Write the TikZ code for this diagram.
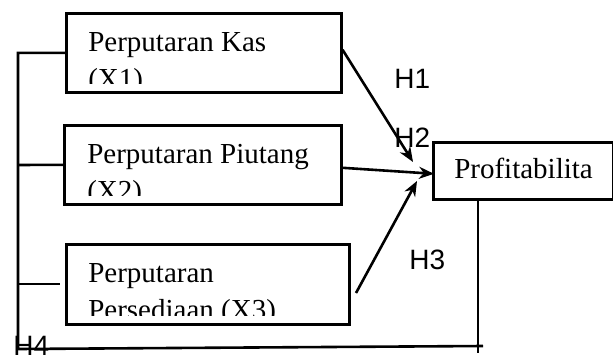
\documentclass[tikz,border=0pt]{standalone}
\usepackage{fontspec}
\setmainfont{Liberation Serif}
\newfontfamily\hfont{Liberation Sans}
\usetikzlibrary{arrows.meta}
\begin{document}
\begin{tikzpicture}[x=1pt,y=-1pt,line width=2.6pt,
  box/.style={draw,rectangle,inner sep=0pt,anchor=north west},
  txt/.style={inner sep=0pt,anchor=base west,font=\fontsize{29}{35}\selectfont},
  hl/.style={inner sep=0pt,anchor=base west,font=\hfont\fontsize{28}{34}\selectfont},
  arr/.style={-{Stealth[length=15pt,width=12pt]}}]
\useasboundingbox (0,0) rectangle (613,362);
% boxes
\node[box,minimum width=275pt,minimum height=79pt] (b1) at (65,12) {};
\node[box,minimum width=277pt,minimum height=79pt] (b2) at (63,124) {};
\node[box,minimum width=283pt,minimum height=80pt] (b3) at (65,243) {};
\node[box,minimum width=180pt,minimum height=57pt] (bp) at (432,141) {};
% clipped texts
\begin{scope}
\clip (b1.north west) rectangle ([yshift=10pt]b1.south east);
\node[txt] (t1a) at (87,51) {Perputaran Kas};
\node[txt] (t1b) at (87,88) {(X1)};
\end{scope}
\begin{scope}
\clip (b2.north west) rectangle ([yshift=10pt]b2.south east);
\node[txt] (t2a) at (86,163) {Perputaran Piutang};
\node[txt] (t2b) at (86,200) {(X2)};
\end{scope}
\begin{scope}
\clip (b3.north west) rectangle ([yshift=10pt]b3.south east);
\node[txt] (t3a) at (87,282) {Perputaran};
\node[txt] (t3b) at (87,319) {Persediaan (X3)};
\end{scope}
\node[txt] (tp) at (453,178) {Profitabilita};
% coordinates
\coordinate (L2) at (18,165);
\coordinate (L3) at (18,284);
\coordinate (T3) at (60,284);
\coordinate (L4) at (18,349);
\coordinate (R4) at (483,346);
\coordinate (P1) at (478,198);
\coordinate (P2) at (478,353);
\coordinate (H1t) at (413,162);
\coordinate (H3s) at (356,293);
\coordinate (H3t) at (417,181);
% connectors
\draw (b1.west) -| (L4) -- (R4);
\draw (L2) -- (b2.west);
\draw (L3) -- (T3);
\draw (P1) -- (P2);
\draw[arr] ([yshift=3pt]b1.east) -- (H1t);
\draw[arr] ([yshift=-3pt]b2.east) -- ([xshift=2pt,yshift=-3pt]bp.west);
\draw[arr] (H3s) -- (H3t);
% labels
\node[hl] (h1) at (393,88) {H1};
\node[hl] (h2) at (393,147) {H2};
\node[hl] (h3) at (408,269) {H3};
\node[hl] (h4) at (12,355) {H4};
\end{tikzpicture}
\end{document}
